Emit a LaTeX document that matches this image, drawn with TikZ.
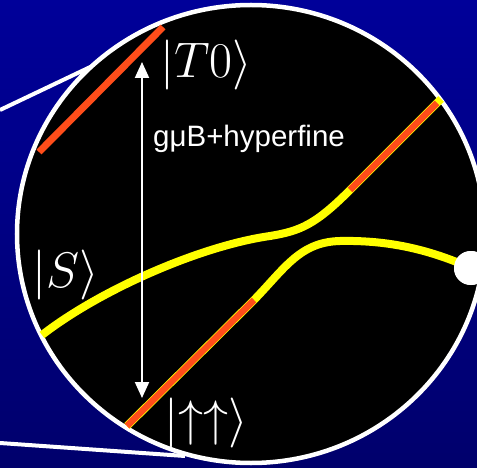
\RequirePackage{fix-cm}
\documentclass[tikz,border=0pt]{standalone}
\usepackage{fontspec}
\newfontfamily\arialf{Liberation Sans}
\usetikzlibrary{arrows.meta}
\definecolor{bgtop}{RGB}{0,0,153}
\definecolor{bgbot}{RGB}{0,0,108}
\definecolor{hotred}{RGB}{255,77,26}
\definecolor{lvlyellow}{RGB}{255,255,0}
\begin{document}
\begin{tikzpicture}[x=1pt,y=-1pt,
  lens/.style={white, line width=4pt},
  level/.style={lvlyellow, line width=8pt},
  hotseg/.style={hotred, line width=7pt},
  ketlabel/.style={white, inner sep=0pt, font=\fontsize{50}{60}\selectfont},
  splitarrow/.style={white, line width=2pt, {Triangle[length=16pt,width=14pt]}-{Triangle[length=16pt,width=14pt]}}]
\useasboundingbox (0,0) rectangle (477,468);
\shade[top color=bgtop,bottom color=bgbot] (0,0) rectangle (477,468);
% lens lines
\coordinate (la) at (0,110);
\coordinate (lb) at (105,60);
\coordinate (lc) at (0,443);
\coordinate (ld) at (185,456);
\draw[lens] (la) -- (lb);
\draw[lens] (lc) -- (ld);
% magnified view
\draw[white, line width=4.5pt, fill=black] (251,234) ellipse [x radius=234pt, y radius=229pt];
% T0 level
\coordinate (ta) at (39,152);
\coordinate (tb) at (163,27);
\draw[hotseg] (ta) -- (tb);
% upper branch
\coordinate (ua) at (42,335);
\coordinate (um) at (270,236);
\coordinate (ub) at (350,190);
\coordinate (uc) at (441,99);
\draw[level] (ua) .. controls (100,290) and (200,246) .. (um)
  .. controls (300,231) and (315,225) .. (ub) -- (uc);
\draw[hotseg, line width=6.5pt, line cap=butt] (ub) -- (437,103);
% lower branch
\coordinate (da) at (127,426);
\coordinate (db) at (254,300);
\coordinate (dm) at (340,241);
\node[circle, fill=white, minimum size=34pt, inner sep=0pt] (dot) at (471,268) {};
\draw[level] (da) -- (db) .. controls (285,268) and (300,242) .. (dm)
  .. controls (390,240) and (430,250) .. (dot.center);
\node[circle, fill=white, minimum size=34pt, inner sep=0pt] at (471,268) {};
\draw[hotseg, line width=6.5pt, line cap=butt] (da) -- (db);
% splitting arrow
\coordinate (aa) at (142,62);
\coordinate (ab) at (142,398);
\draw[splitarrow] (aa) -- (ab);
% labels
\node[ketlabel] (T0) at (206,65) {$\bigl|T0\bigr\rangle$};
\node[ketlabel] (S) at (66,275) {$\bigl|S\bigr\rangle$};
\node[ketlabel] (UU) at (206,423) {$\bigl|\uparrow\uparrow\bigr\rangle$};
\node[white, inner sep=0pt, anchor=base west, font=\arialf\fontsize{29.5}{32}\selectfont] (lab) at (153,147) {gμB+hyperfine};
\end{tikzpicture}
\end{document}
